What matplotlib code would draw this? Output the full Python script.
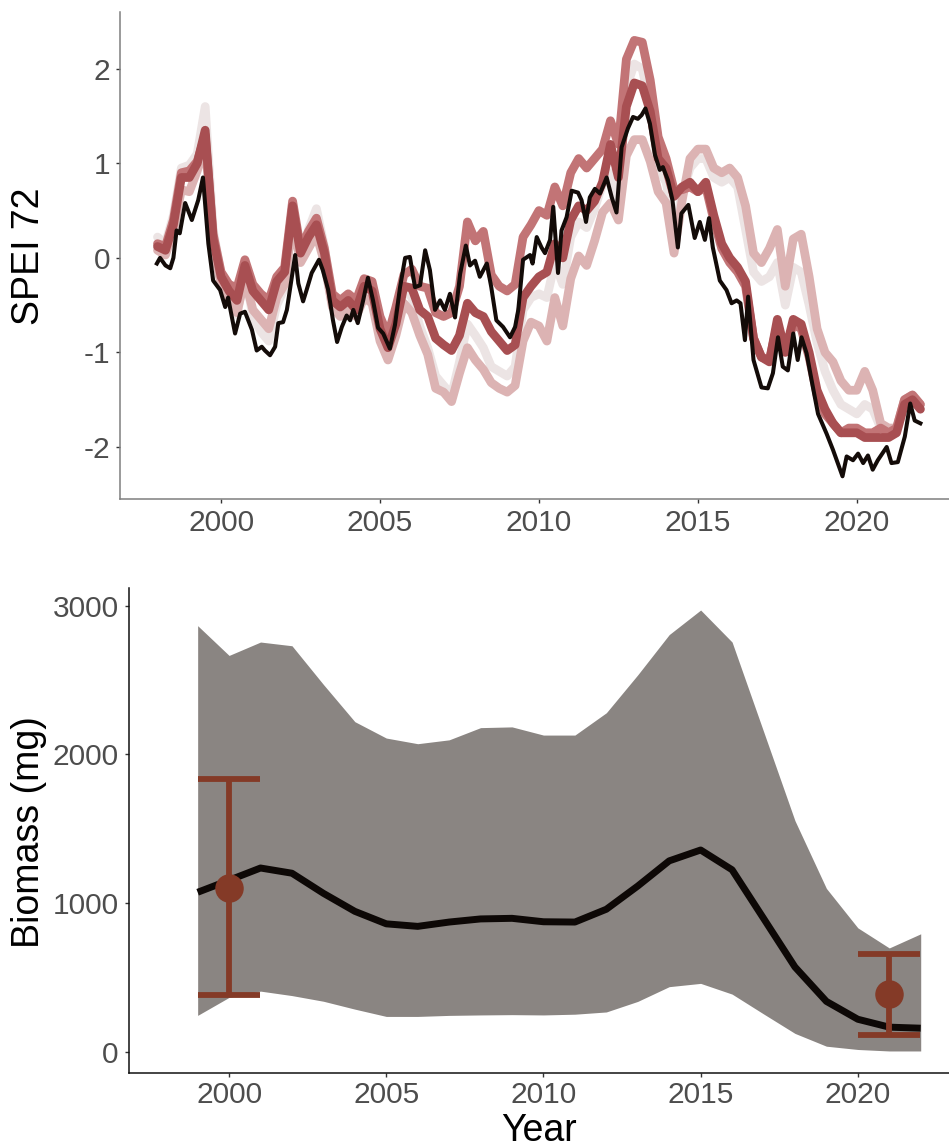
import numpy as np
import matplotlib
matplotlib.use("Agg")
import matplotlib.pyplot as plt

plt.rcParams['font.family'] = ['Liberation Sans', 'DejaVu Sans']

# ---------------- SPEI 72 series ----------------
# observed SPEI-72 (decimal year, value)
obs_years = [1997.98, 1998.08, 1998.25, 1998.40, 1998.50, 1998.60, 1998.70, 1998.87, 1999.08, 1999.28,
             1999.43, 1999.60, 1999.75, 1999.97, 2000.13, 2000.22, 2000.44, 2000.60, 2000.75, 2000.97,
             2001.12, 2001.28, 2001.38, 2001.54, 2001.70, 2001.80, 2001.95, 2002.07, 2002.33, 2002.43,
             2002.58, 2002.69, 2002.85, 2003.08, 2003.20, 2003.37, 2003.52, 2003.65, 2003.80, 2003.95,
             2004.06, 2004.16, 2004.30, 2004.47, 2004.62, 2004.78, 2004.94, 2005.10, 2005.31, 2005.47,
             2005.63, 2005.79, 2005.94, 2006.10, 2006.26, 2006.42, 2006.57, 2006.73, 2006.89, 2007.04,
             2007.20, 2007.36, 2007.52, 2007.70, 2007.83, 2007.99, 2008.14, 2008.36, 2008.50, 2008.66,
             2008.87, 2009.09, 2009.25, 2009.35, 2009.50, 2009.72, 2009.80, 2009.93, 2010.08, 2010.19,
             2010.35, 2010.45, 2010.60, 2010.71, 2010.87, 2011.03, 2011.23, 2011.34, 2011.48, 2011.60,
             2011.76, 2011.92, 2012.13, 2012.29, 2012.44, 2012.60, 2012.80, 2012.96, 2013.11, 2013.23,
             2013.35, 2013.49, 2013.65, 2013.80, 2013.90, 2014.06, 2014.20, 2014.37, 2014.48, 2014.70,
             2014.90, 2015.06, 2015.22, 2015.35, 2015.47, 2015.69, 2015.90, 2016.06, 2016.22, 2016.34,
             2016.48, 2016.58, 2016.75, 2017.00, 2017.20, 2017.36, 2017.52, 2017.67, 2017.83, 2018.00,
             2018.14, 2018.26, 2018.42, 2018.62, 2018.78, 2019.05, 2019.25, 2019.40, 2019.55, 2019.68,
             2019.88, 2020.04, 2020.20, 2020.35, 2020.50, 2020.66, 2020.94, 2021.09, 2021.29, 2021.51,
             2021.68, 2021.82, 2022.00]
obs_spei = [-0.06, 0.00, -0.08, -0.11, 0.00, 0.29, 0.26, 0.58, 0.40, 0.61,
            0.85, 0.15, -0.24, -0.34, -0.52, -0.42, -0.80, -0.59, -0.57, -0.76,
            -0.98, -0.94, -0.98, -1.03, -0.94, -0.69, -0.68, -0.55, 0.03, -0.27,
            -0.46, -0.34, -0.16, -0.02, -0.13, -0.34, -0.66, -0.89, -0.73, -0.61,
            -0.66, -0.55, -0.69, -0.45, -0.21, -0.45, -0.74, -0.80, -0.96, -0.71,
            -0.31, 0.00, 0.01, -0.31, -0.29, 0.08, -0.13, -0.55, -0.45, -0.55,
            -0.38, -0.63, -0.17, 0.13, -0.08, -0.03, -0.20, -0.06, -0.31, -0.66,
            -0.73, -0.84, -0.73, -0.55, -0.02, 0.03, -0.06, 0.22, 0.11, 0.05,
            0.19, 0.54, -0.16, 0.29, 0.43, 0.71, 0.69, 0.61, 0.38, 0.64,
            0.73, 0.68, 0.85, 0.64, 0.48, 1.17, 1.37, 1.49, 1.47, 1.51,
            1.58, 1.42, 1.09, 0.93, 0.96, 0.82, 0.61, 0.11, 0.47, 0.56,
            0.21, 0.38, 0.19, 0.42, 0.11, -0.24, -0.34, -0.48, -0.45, -0.48,
            -0.87, -0.41, -1.08, -1.37, -1.38, -1.22, -0.84, -1.15, -1.19, -0.80,
            -1.08, -0.84, -1.01, -1.37, -1.65, -1.86, -2.03, -2.17, -2.31, -2.10,
            -2.14, -2.07, -2.17, -2.09, -2.24, -2.14, -2.00, -2.17, -2.16, -1.89,
            -1.54, -1.72, -1.75]

# quarterly sample dates of the modelled series
model_years = np.arange(1998.0, 2022.01, 0.25)

spei_grey = [0.22, 0.15, 0.45, 0.95, 0.98, 1.10, 1.60, 0.30, -0.18, -0.42,
             -0.60, -0.15, -0.62, -0.78, -0.88, -0.50, -0.32, 0.45, 0.00, 0.30,
             0.52, 0.12, -0.48, -0.58, -0.48, -0.58, -0.36, -0.42, -0.82, -1.02,
             -0.76, -0.32, -0.42, -0.72, -0.95, -1.25, -1.35, -1.45, -1.10, -0.70,
             -0.82, -0.95, -1.15, -1.20, -1.25, -1.15, -0.55, -0.42, -0.38, -0.42,
             -0.05, -0.28, 0.22, 0.38, 0.32, 0.52, 0.78, 0.90, 0.60, 1.80,
             2.05, 2.00, 1.60, 0.95, 0.80, 0.35, 0.65, 0.95, 1.05, 1.05,
             0.85, 0.80, 0.85, 0.75, 0.30, -0.15, -0.25, -0.20, -0.05, -0.50,
             -0.10, -0.15, -0.50, -0.90, -1.20, -1.40, -1.55, -1.60, -1.65, -1.55,
             -1.60, -1.80, -1.85, -1.85, -1.55, -1.50, -1.60]
spei_pink = [0.08, 0.03, 0.28, 0.72, 0.70, 0.92, 1.22, 0.12, -0.28, -0.45,
             -0.58, -0.22, -0.55, -0.65, -0.75, -0.42, -0.28, 0.40, -0.05, 0.10,
             0.25, -0.05, -0.52, -0.62, -0.55, -0.62, -0.42, -0.48, -0.88, -1.08,
             -0.82, -0.48, -0.58, -0.82, -1.02, -1.38, -1.42, -1.52, -1.22, -0.95,
             -1.08, -1.18, -1.32, -1.38, -1.42, -1.35, -0.88, -0.68, -0.72, -0.88,
             -0.42, -0.72, -0.22, 0.02, -0.08, 0.18, 0.48, 0.58, 0.40, 1.08,
             1.25, 1.25, 1.02, 0.70, 0.58, 0.05, 0.60, 1.05, 1.15, 1.15,
             0.95, 0.90, 0.95, 0.85, 0.55, 0.05, -0.05, 0.10, 0.30, -0.30,
             0.20, 0.25, -0.20, -0.75, -1.00, -1.10, -1.30, -1.40, -1.40, -1.20,
             -1.40, -1.75, -1.80, -1.80, -1.50, -1.45, -1.55]
spei_rose = [0.15, 0.12, 0.40, 0.90, 0.92, 1.02, 1.30, 0.25, -0.15, -0.28,
             -0.32, -0.02, -0.28, -0.38, -0.45, -0.20, -0.10, 0.60, 0.10, 0.28,
             0.42, 0.10, -0.38, -0.45, -0.38, -0.45, -0.22, -0.25, -0.62, -0.82,
             -0.52, -0.18, -0.12, -0.30, -0.32, -0.58, -0.62, -0.58, -0.30, 0.38,
             0.18, 0.28, -0.18, -0.30, -0.35, -0.28, 0.22, 0.35, 0.50, 0.45,
             0.75, 0.55, 0.90, 1.05, 0.95, 1.05, 1.15, 1.45, 1.20, 2.10,
             2.30, 2.28, 1.88, 1.28, 1.05, 0.72, 0.72, 0.75, 0.70, 0.75,
             0.40, 0.10, -0.05, -0.15, -0.30, -0.85, -1.05, -1.08, -0.70, -0.98,
             -0.70, -0.75, -1.05, -1.45, -1.65, -1.75, -1.85, -1.80, -1.80, -1.85,
             -1.85, -1.80, -1.85, -1.80, -1.50, -1.45, -1.55]
spei_dark = [0.12, 0.08, 0.35, 0.85, 0.85, 1.00, 1.35, 0.20, -0.20, -0.35,
             -0.45, -0.08, -0.35, -0.45, -0.55, -0.25, -0.15, 0.55, 0.05, 0.22,
             0.35, 0.05, -0.45, -0.52, -0.45, -0.55, -0.30, -0.35, -0.75, -0.95,
             -0.70, -0.30, -0.32, -0.55, -0.62, -0.85, -0.92, -0.98, -0.82, -0.48,
             -0.58, -0.62, -0.78, -0.88, -0.98, -0.92, -0.42, -0.30, -0.20, -0.15,
             0.15, 0.00, 0.40, 0.55, 0.50, 0.60, 0.80, 1.20, 0.85, 1.60,
             1.85, 1.82, 1.55, 1.05, 0.95, 0.65, 0.75, 0.80, 0.70, 0.80,
             0.45, 0.15, 0.00, -0.10, -0.25, -0.85, -1.05, -1.10, -0.65, -1.00,
             -0.65, -0.70, -1.00, -1.40, -1.60, -1.75, -1.85, -1.85, -1.85, -1.90,
             -1.90, -1.90, -1.90, -1.85, -1.55, -1.50, -1.60]

model_series = [spei_grey, spei_pink, spei_rose, spei_dark]
model_colors = ['#ECE4E4', '#DCB3B3', '#C27476', '#A84F52']

# ---------------- biomass series ----------------
bio_years = list(range(1999, 2023))
bio_upper = [2865, 2665, 2755, 2730, 2470, 2220, 2110, 2072, 2098, 2180, 2185, 2130,
             2130, 2280, 2535, 2805, 2970, 2755, 2155, 1555, 1100, 835, 700, 795]
bio_lower = [247, 368, 410, 380, 342, 289, 240, 240, 247, 250, 252, 250,
             255, 270, 341, 440, 462, 390, 257, 126, 40, 18, 8, 8]
bio_mean = [1074, 1155, 1237, 1202, 1067, 946, 862, 845, 874, 895, 899, 876,
            874, 960, 1116, 1285, 1358, 1225, 899, 572, 341, 221, 168, 161]

field_years = [2000, 2021]
field_mean = [1104, 390]
field_low = [383, 112]
field_high = [1834, 657]

W, H = 949, 1144
fig = plt.figure(figsize=(W / 100, H / 100), dpi=100)

tick_col = '#4D4D4D'
tick_size = 21.5
title_size = 27

def px_axes(left, top, right, bottom):
    return fig.add_axes([left / W, 1 - bottom / H, (right - left) / W, (bottom - top) / H])

def style(ax, spine_col, pad):
    for s in ['top', 'right']:
        ax.spines[s].set_visible(False)
    for s in ['left', 'bottom']:
        ax.spines[s].set_color(spine_col)
        ax.spines[s].set_linewidth(1.1)
    ax.tick_params(axis='both', length=3, width=1.0, color='#333333',
                   labelsize=tick_size, labelcolor=tick_col, pad=4)
    ax.tick_params(axis='x', pad=pad)
    ax.set_xticks([2000, 2005, 2010, 2015, 2020])
    ax.set_xticklabels(['2000', '2005', '2010', '2015', '2020'])

# top panel
ax1 = px_axes(120, 12, 949, 499)
for vals, col in zip(model_series, model_colors):
    ax1.plot(model_years, vals, color=col, lw=6.3, solid_capstyle='round',
             solid_joinstyle='round')
ax1.plot(obs_years, obs_spei, color='#130B08', lw=2.9, solid_joinstyle='round')
ax1.set_xlim(1996.82, 2022.9)
ax1.set_ylim(-2.55, 2.6)
ax1.set_yticks([-2, -1, 0, 1, 2])
ax1.set_yticklabels(['-2', '-1', '0', '1', '2'])
style(ax1, '#7F7F7F', 4)

# bottom panel
ax2 = px_axes(128.5, 588, 949, 1073)
ax2.fill_between(bio_years, bio_lower, bio_upper, color='#8A8582', lw=0)
ax2.plot(bio_years, bio_mean, color='#0D0806', lw=5.0, solid_capstyle='butt')
ax2.errorbar(field_years, field_mean,
             yerr=[np.subtract(field_mean, field_low), np.subtract(field_high, field_mean)],
             fmt='o', color='#843A27', ms=19.5, elinewidth=4.2, capsize=22.5, capthick=4.2)
ax2.set_xlim(1996.8, 2022.9)
ax2.set_ylim(-140, 3118)
ax2.set_yticks([0, 1000, 2000, 3000])
ax2.set_yticklabels(['0', '1000', '2000', '3000'])
style(ax2, '#111111', 2.5)

fig.text(29 / W, 1 - 256 / H, 'SPEI 72', rotation=90, ha='center', va='center',
         fontsize=title_size, color='black')
fig.text(29 / W, 1 - 832 / H, 'Biomass (mg)', rotation=90, ha='center', va='center',
         fontsize=title_size, color='black')
fig.text(539 / W, 1 - 1141 / H, 'Year', ha='center', va='baseline',
         fontsize=title_size, color='black')

fig.savefig('out.png', dpi=100, facecolor='white')
